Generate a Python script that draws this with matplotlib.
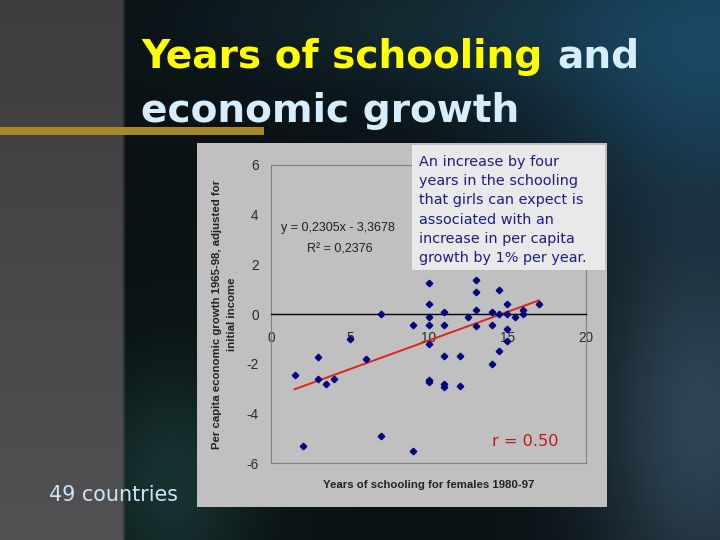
import matplotlib
matplotlib.use('Agg')
import matplotlib.pyplot as plt
import numpy as np
from matplotlib.patches import Rectangle

plt.rcParams['axes.unicode_minus'] = False

# ---------------- data ----------------
schooling = [1.5, 2.0, 3.0, 3.0, 3.5, 4.0, 5.0, 6.0, 7.0, 7.0, 9.0, 9.0,
             10.0, 10.0, 10.0, 10.0, 10.0, 10.0, 10.0,
             11.0, 11.0, 11.0, 11.0, 11.0, 12.0, 12.0, 12.5,
             13.0, 13.0, 13.0, 13.0, 14.0, 14.0, 14.0,
             14.5, 14.5, 14.5, 15.0, 15.0, 15.0, 15.0, 15.5, 16.0, 16.0, 17.0]
growth = [-2.43, -5.29, -1.73, -2.61, -2.82, -2.61, -1.0, -1.82, 0.0, -4.9, -0.42, -5.52,
          1.27, 0.39, -0.13, -0.42, -1.21, -2.63, -2.71,
          0.09, -0.42, -1.70, -2.83, -2.92, -1.70, -2.91, -0.11,
          1.38, 0.88, 0.17, -0.46, 0.09, -0.42, -2.01,
          0.97, 0.0, -1.50, 0.40, 0.0, -0.60, -1.10, -0.13, 0.17, 0.0, 0.42]
slope, intercept = 0.2305, -3.3678
x_ticks = [0, 5, 10, 15, 20]
y_ticks = [-6, -4, -2, 0, 2, 4, 6]

title_yellow = "Years of schooling"
title_and = "and"
title_line2 = "economic growth"
note_lines = ["An increase by four", "years in the schooling",
              "that girls can expect is", "associated with an",
              "increase in per capita", "growth by 1% per year."]
eq_text = "y = 0,2305x - 3,3678"
r2_text = "R\u00b2 = 0,2376"
r_text = "r = 0.50"
countries_text = "49 countries"
xlabel = "Years of schooling for females 1980-97"
ylabel1 = "Per capita economic growth 1965-98, adjusted for"
ylabel2 = "initial income"

# ---------------- figure ----------------
W, H = 720, 540
fig = plt.figure(figsize=(7.2, 5.4), dpi=100)
def fx(x): return x / W
def fy(y): return 1 - y / H

# background (decorative slide texture approximation)
bg = fig.add_axes([0, 0, 1, 1])
bg.set_axis_off()
bg.set_zorder(0)
yy, xx = np.mgrid[0:540:4, 0:720:4].astype(float)
img = np.zeros(xx.shape + (3,))
img[:] = [0.04, 0.07, 0.08]
g1 = np.exp(-(((xx - 720) / 220) ** 2 + ((yy - 40) / 160) ** 2))
img += g1[..., None] * np.array([0.06, 0.20, 0.30])
g2 = np.exp(-(((xx - 170) / 80) ** 2 + ((yy - 480) / 110) ** 2))
img += g2[..., None] * np.array([0.05, 0.13, 0.11])
g3 = np.exp(-(((xx - 700) / 110) ** 2 + ((yy - 420) / 200) ** 2))
img += g3[..., None] * np.array([0.14, 0.20, 0.25])
g4 = np.exp(-(((xx - 400) / 200) ** 2 + ((yy - 20) / 60) ** 2))
img += g4[..., None] * np.array([0.03, 0.07, 0.08])
left = xx < 122
shade = 0.24 + 0.08 * (yy / 540.0)
img[left] = np.stack([shade, shade, shade + 0.01], axis=-1)[left]
img = np.clip(img, 0, 1)
bg.imshow(img, extent=[0, 1, 0, 1], aspect='auto', interpolation='bilinear', zorder=0)
bg.set_xlim(0, 1); bg.set_ylim(0, 1)

# gold bar under title
fig.patches.append(Rectangle((0, fy(135)), fx(264), 8 / H, transform=fig.transFigure,
                             facecolor='#a8892a', edgecolor='none', zorder=1))

# chart panel
fig.patches.append(Rectangle((fx(197), fy(507)), fx(607) - fx(197), (507 - 143) / H,
                             transform=fig.transFigure, facecolor='#c0c0c0',
                             edgecolor='none', zorder=1))

renderer = fig.canvas.get_renderer()
def fit(t, target_w):
    w = t.get_window_extent(renderer).width
    t.set_fontsize(t.get_fontsize() * target_w / w)
    return t

# title
t1 = fig.text(fx(141), fy(68), title_yellow, color='#ffff00', fontsize=30,
              fontweight='bold', family='DejaVu Sans', ha='left', va='baseline')
fit(t1, 401)
fs_title = t1.get_fontsize()
fig.text(fx(557), fy(68), title_and, color='#d6eefc', fontsize=fs_title,
         fontweight='bold', family='DejaVu Sans', ha='left', va='baseline')
fig.text(fx(141), fy(122), title_line2, color='#d6eefc', fontsize=fs_title,
         fontweight='bold', family='DejaVu Sans', ha='left', va='baseline')

# 49 countries
tc = fig.text(fx(49), fy(501), countries_text, color='#cfe4f4', fontsize=16,
              family='DejaVu Sans', ha='left', va='baseline')
fit(tc, 129)

# ---------------- scatter axes ----------------
ax = fig.add_axes([fx(271), fy(463.3), (586 - 271) / W, (463.3 - 165) / H])
ax.set_zorder(2)
ax.set_facecolor('none')
ax.set_xlim(0, 20)
ax.set_ylim(-6, 6)
ax.set_xticks(x_ticks)
ax.set_yticks(y_ticks)
for s in ['top', 'left', 'right']:
    ax.spines[s].set_color('#808080')
    ax.spines[s].set_linewidth(0.8)
ax.spines['bottom'].set_position(('data', 0))
ax.spines['bottom'].set_color('black')
ax.spines['bottom'].set_linewidth(1.0)
ax.axhline(-6, color='#808080', lw=0.8, clip_on=False)
ax.tick_params(axis='y', length=0, pad=9, labelsize=9.8, labelcolor='#2a2a2a')
ax.tick_params(axis='x', length=0, pad=12, labelsize=9.8, labelcolor='#2a2a2a')
for lab in ax.get_xticklabels() + ax.get_yticklabels():
    lab.set_family('Liberation Sans')

ax.plot(schooling, growth, linestyle='none', marker='D', markersize=3.3,
        color='#000080', zorder=3)
xs = np.array([min(schooling), max(schooling)])
ax.plot(xs, slope * xs + intercept, color='#e0241c', lw=1.4, zorder=2)

ax.text(0.5, -0.0727, xlabel, transform=ax.transAxes, ha='center', va='center',
        fontsize=8.2, fontweight='bold', family='Liberation Sans', color='#222222')
fig.text(fx(217), fy(314), ylabel1, rotation=90, ha='center', va='center',
         fontsize=8.2, fontweight='bold', family='Liberation Sans', color='#222222')
fig.text(fx(232), fy(314), ylabel2, rotation=90, ha='center', va='center',
         fontsize=8.2, fontweight='bold', family='Liberation Sans', color='#222222')

# trend equation
fig.text(fx(281), fy(228), eq_text, ha='left', va='center', fontsize=9,
         family='Liberation Sans', color='#202020', zorder=4)
fig.text(fx(307), fy(249), r2_text, ha='left', va='center', fontsize=9,
         family='Liberation Sans', color='#202020', zorder=4)

# r value
tr = fig.text(fx(492), fy(441.7), r_text, ha='left', va='center', fontsize=13,
              family='DejaVu Sans', color='#c01818', zorder=4)
fit(tr, 66)

# note box
fig.patches.append(Rectangle((fx(412), fy(270)), (605 - 412) / W, (270 - 145) / H,
                             transform=fig.transFigure, facecolor='#e9e9e9',
                             edgecolor='none', zorder=5))
baselines = [166, 185.2, 204.4, 223.6, 242.8, 262]
tl = fig.text(fx(419), fy(baselines[5]), note_lines[5], ha='left', va='baseline',
              fontsize=11, family='DejaVu Sans', color='#1c1c8a', zorder=6)
fit(tl, 168)
fs_note = tl.get_fontsize()
for line, b in zip(note_lines[:5], baselines[:5]):
    fig.text(fx(419), fy(b), line, ha='left', va='baseline', fontsize=fs_note,
             family='DejaVu Sans', color='#1c1c8a', zorder=6)

fig.savefig('out.png', dpi=100)
